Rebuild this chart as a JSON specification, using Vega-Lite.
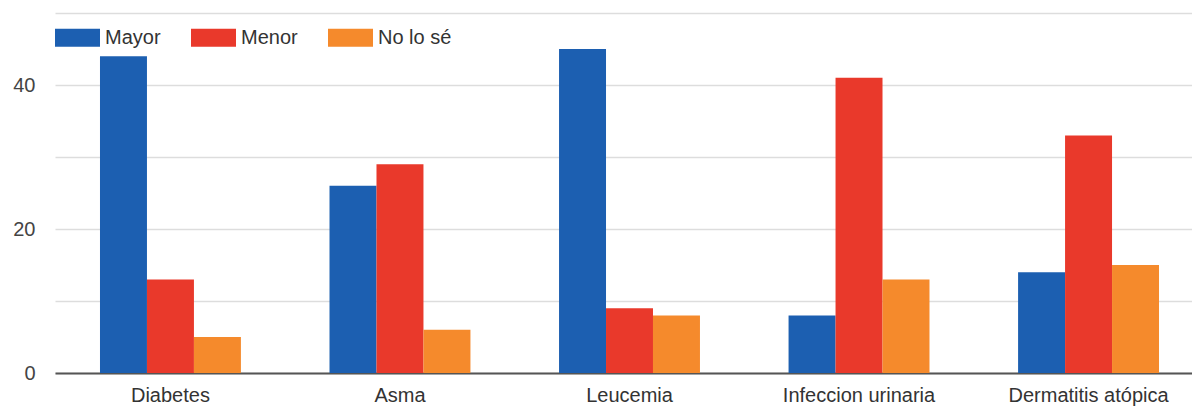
{
  "$schema": "https://vega.github.io/schema/vega-lite/v6.json",
  "width": 1149,
  "height": 360,
  "autosize": "none",
  "padding": {"left": 55, "top": 13, "right": 0, "bottom": 35},
  "background": "white",
  "data": {
    "values": [
      {"enfermedad": "Diabetes", "respuesta": "Mayor", "valor": 44},
      {"enfermedad": "Diabetes", "respuesta": "Menor", "valor": 13},
      {"enfermedad": "Diabetes", "respuesta": "No lo sé", "valor": 5},
      {"enfermedad": "Asma", "respuesta": "Mayor", "valor": 26},
      {"enfermedad": "Asma", "respuesta": "Menor", "valor": 29},
      {"enfermedad": "Asma", "respuesta": "No lo sé", "valor": 6},
      {"enfermedad": "Leucemia", "respuesta": "Mayor", "valor": 45},
      {"enfermedad": "Leucemia", "respuesta": "Menor", "valor": 9},
      {"enfermedad": "Leucemia", "respuesta": "No lo sé", "valor": 8},
      {"enfermedad": "Infeccion urinaria", "respuesta": "Mayor", "valor": 8},
      {"enfermedad": "Infeccion urinaria", "respuesta": "Menor", "valor": 41},
      {"enfermedad": "Infeccion urinaria", "respuesta": "No lo sé", "valor": 13},
      {"enfermedad": "Dermatitis atópica", "respuesta": "Mayor", "valor": 14},
      {"enfermedad": "Dermatitis atópica", "respuesta": "Menor", "valor": 33},
      {"enfermedad": "Dermatitis atópica", "respuesta": "No lo sé", "valor": 15}
    ]
  },
  "mark": {"type": "bar"},
  "encoding": {
    "x": {
      "field": "enfermedad",
      "type": "nominal",
      "sort": null,
      "title": null,
      "scale": {"paddingInner": 0.386, "paddingOuter": 0.196},
      "axis": {
        "labelAngle": 0,
        "labelFont": "Liberation Sans",
        "labelFontSize": 20,
        "labelColor": "#333",
        "labelPadding": 12,
        "ticks": false,
        "domainColor": "#555",
        "domainWidth": 2,
        "grid": false
      }
    },
    "y": {
      "field": "valor",
      "type": "quantitative",
      "title": null,
      "scale": {"domain": [0, 50], "nice": false},
      "axis": {
        "values": [0, 10, 20, 30, 40, 50],
        "labelExpr": "datum.value % 20 == 0 ? datum.label : ''",
        "labelFont": "Liberation Sans",
        "labelFontSize": 20,
        "labelColor": "#444",
        "labelPadding": 20,
        "ticks": false,
        "domain": false,
        "gridColor": "#dddddd",
        "gridWidth": 1.5
      }
    },
    "xOffset": {"field": "respuesta", "type": "nominal", "scale": {"paddingInner": 0, "paddingOuter": 0}},
    "color": {
      "field": "respuesta",
      "type": "nominal",
      "scale": {"domain": ["Mayor", "Menor", "No lo sé"], "range": ["#1c5fb1", "#e9392b", "#f58a2c"]},
      "legend": {
        "title": null,
        "orient": "none",
        "legendX": 0,
        "legendY": 2,
        "direction": "horizontal",
        "symbolType": "M-1,-0.4H1V0.4H-1Z",
        "symbolSize": 2025,
        "symbolStrokeWidth": 0,
        "symbolOpacity": 1,
        "labelFont": "Liberation Sans",
        "labelFontSize": 20,
        "labelColor": "#333",
        "labelOffset": 5,
        "columnPadding": 30
      }
    }
  },
  "config": {"view": {"stroke": null}}
}
